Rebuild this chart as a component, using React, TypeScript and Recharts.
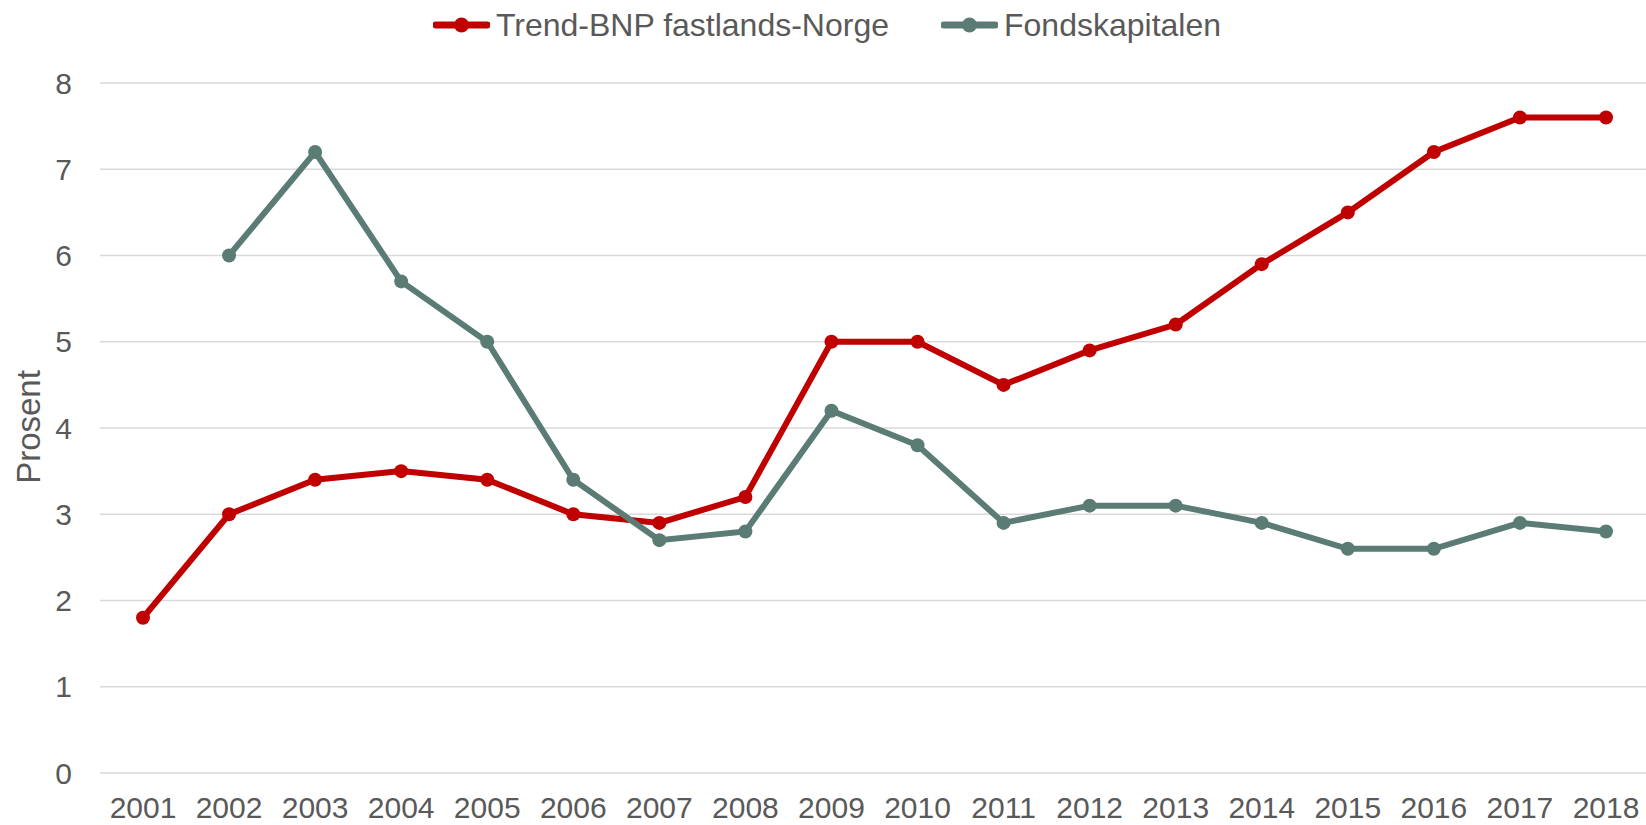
import React from "react";
import { LineChart, Line, XAxis, YAxis, CartesianGrid, Legend, Label } from "recharts";

const years = ["2001","2002","2003","2004","2005","2006","2007","2008","2009","2010","2011","2012","2013","2014","2015","2016","2017","2018"];
const trendBNP = [1.8, 3.0, 3.4, 3.5, 3.4, 3.0, 2.9, 3.2, 5.0, 5.0, 4.5, 4.9, 5.2, 5.9, 6.5, 7.2, 7.6, 7.6];
const fondskapitalen: (number | null)[] = [null, 6.0, 7.2, 5.7, 5.0, 3.4, 2.7, 2.8, 4.2, 3.8, 2.9, 3.1, 3.1, 2.9, 2.6, 2.6, 2.9, 2.8];
const yTicks = [0, 1, 2, 3, 4, 5, 6, 7, 8];

const seriesNames = ["Trend-BNP fastlands-Norge", "Fondskapitalen"];
const seriesColors = ["#C00000", "#5B7B75"];

const data = years.map((y, i) => ({ year: y, trend: trendBNP[i], fond: fondskapitalen[i] }));

const FONT = "'Liberation Sans', Arial, sans-serif";
const TEXT = "#595959";

const LegendContent = () => (
  <div style={{ height: 75, width: 1646, position: "relative" }}>
    <div style={{ height: 50, display: "flex", alignItems: "center", justifyContent: "center", paddingLeft: 8 }}>
      {seriesNames.map((n, i) => (
        <div key={n} style={{ display: "flex", alignItems: "center", marginRight: i === 0 ? 52 : 0 }}>
          <svg width={57} height={16} style={{ marginRight: 6 }}>
            <line x1={3} y1={8} x2={54} y2={8} stroke={seriesColors[i]} strokeWidth={7} strokeLinecap="round" />
            <circle cx={28.5} cy={8} r={7.5} fill={seriesColors[i]} />
          </svg>
          <span style={{ fontFamily: FONT, fontSize: 32, color: TEXT }}>{n}</span>
        </div>
      ))}
    </div>
  </div>
);

export default function App() {
  return (
    <div style={{ position: "absolute", left: 0, top: 0, width: 1646, height: 825, background: "#fff" }}>
      <LineChart width={1646} height={825} data={data} margin={{ top: 8, right: 0, bottom: 0, left: 0 }}>
        <CartesianGrid vertical={false} stroke="#D9D9D9" strokeWidth={1.5} />
        <XAxis
          dataKey="year"
          padding={{ left: 43, right: 40 }}
          axisLine={false}
          tickLine={false}
          tickSize={0}
          tickMargin={24}
          height={52}
          interval={0}
          tick={{ fontSize: 30, fill: TEXT, fontFamily: FONT }}
        />
        <YAxis
          domain={[0, 8]}
          ticks={yTicks}
          width={100}
          axisLine={false}
          tickLine={false}
          tickSize={0}
          tickMargin={28}
          interval={0}
          tick={{ fontSize: 30, fill: TEXT, fontFamily: FONT }}
        >
          <Label
            content={() => (
              <text
                x={28}
                y={427}
                transform="rotate(-90, 28, 427)"
                textAnchor="middle"
                dominantBaseline="central"
                fontSize={33}
                fill={TEXT}
                fontFamily={FONT}
              >
                Prosent
              </text>
            )}
          />
        </YAxis>
        <Legend verticalAlign="top" align="left" wrapperStyle={{ top: 0, left: 0 }} content={() => <LegendContent />} />
        <Line
          dataKey="trend"
          name={seriesNames[0]}
          stroke={seriesColors[0]}
          strokeWidth={6}
          dot={{ r: 7, fill: seriesColors[0], stroke: "none" }}
          isAnimationActive={false}
        />
        <Line
          dataKey="fond"
          name={seriesNames[1]}
          stroke={seriesColors[1]}
          strokeWidth={6}
          dot={{ r: 7, fill: seriesColors[1], stroke: "none" }}
          isAnimationActive={false}
        />
      </LineChart>
    </div>
  );
}
